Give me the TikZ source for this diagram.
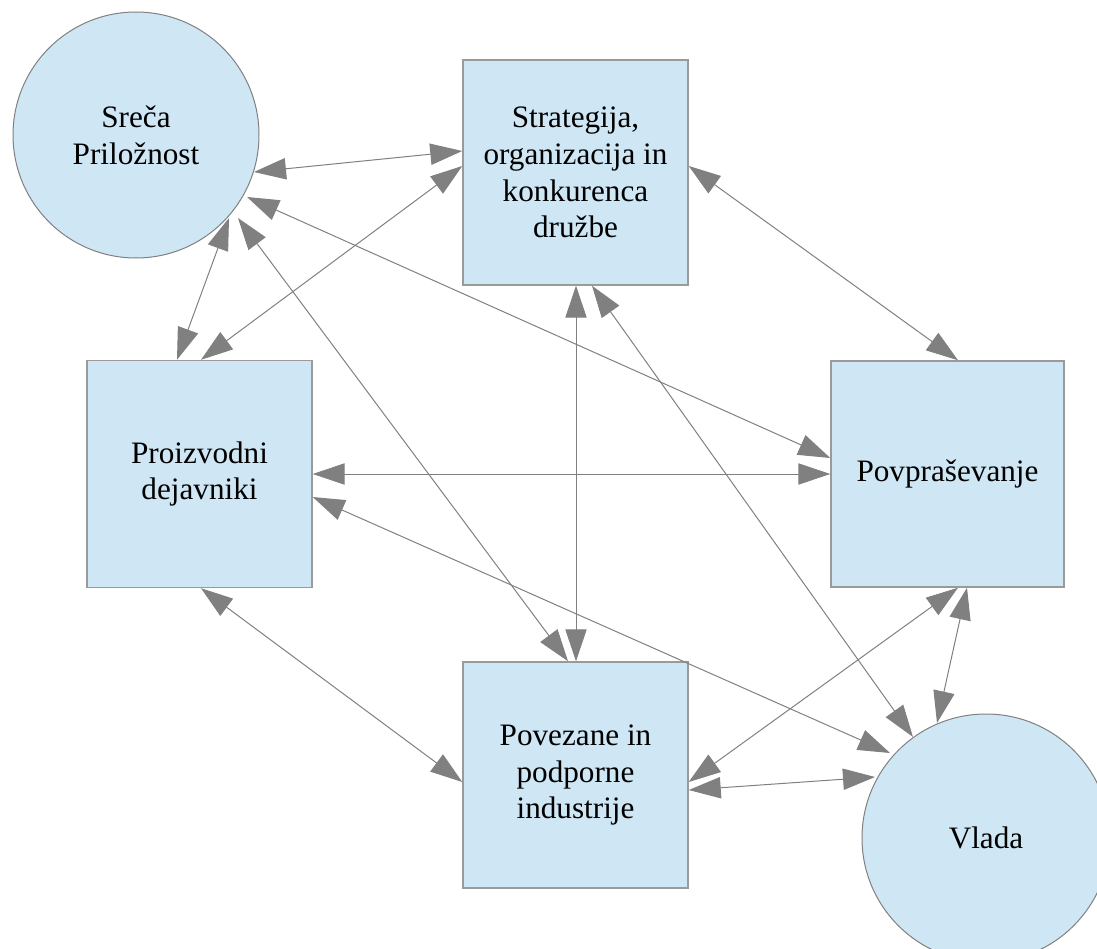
\documentclass[tikz,border=0pt]{standalone}
\usepackage{fontspec}
\setmainfont{Liberation Serif}
\usetikzlibrary{arrows.meta,calc}
\definecolor{fillblue}{HTML}{CFE6F4}
\definecolor{boxgray}{HTML}{9A9A9A}
\definecolor{edgegray}{HTML}{808080}
\definecolor{arrgray}{HTML}{808080}
\begin{document}
\begin{tikzpicture}[x=0.75pt,y=-0.75pt,
  lbl/.style={font=\fontsize{23.4}{27.5}\selectfont, align=center, text=black},
  boxnode/.style={lbl, draw=boxgray, line width=1.1pt, fill=fillblue, rectangle, inner sep=0pt},
  circnode/.style={lbl, draw=edgegray, line width=0.75pt, fill=fillblue, circle, inner sep=0pt},
  link/.style={draw=arrgray, line width=0.75pt, {Triangle[length=24pt,width=16pt]}-{Triangle[length=24pt,width=16pt]}}
]
\useasboundingbox (0,0) rectangle (1097,949);
\clip (0,0) rectangle (1097,949);

\node[circnode, minimum size=184.5pt] (sreca) at (136,135) {Sreča\\Priložnost};
\node[circnode, minimum size=186pt] (vlada) at (986,838) {Vlada};
\node[boxnode, minimum width=168.75pt, minimum height=168.75pt] (strat) at (575.5,172.5) {Strategija,\\organizacija in\\konkurenca\\družbe};
\node[boxnode, minimum width=168.75pt, minimum height=170.25pt] (proiz) at (199.5,474) {Proizvodni\\dejavniki};
\node[boxnode, minimum width=174.75pt, minimum height=169.5pt] (povpr) at (947.5,474) {Povpraševanje};
\node[boxnode, minimum width=168.75pt, minimum height=169.5pt] (povez) at (575.5,775) {Povezane in\\podporne\\industrije};

\draw[link] ($(sreca.center)+(118,37)$) -- ($(strat.west)+(0,-21.5)$);
\draw[link] ($(sreca.center)+(93,83)$) -- ($(proiz.north)+(-22.5,0)$);
\draw[link] ($(strat.west)+(0,-6.5)$) -- ($(proiz.north)+(1.5,0)$);
\draw[link] ($(sreca.center)+(111,62)$) -- ($(povpr.west)+(0,-16)$);
\draw[link] ($(sreca.center)+(102,83)$) -- ($(povez.north)+(-7.5,0)$);
\draw[link] ($(strat.south)+(0.5,0)$) -- ($(povez.north)+(0.5,0)$);
\draw[link] ($(strat.south)+(16.5,0)$) -- ($(vlada.center)+(-73,-101)$);
\draw[link] ($(strat.east)+(0,-6.5)$) -- ($(povpr.north)+(10.5,0)$);
\draw[link] (proiz.east) -- (povpr.west);
\draw[link] ($(proiz.east)+(0,23)$) -- ($(vlada.center)+(-96,-85)$);
\draw[link] ($(proiz.south)+(1.5,0)$) -- ($(povez.west)+(0,7)$);
\draw[link] ($(povez.east)+(0,7)$) -- ($(povpr.south)+(10.5,0)$);
\draw[link] ($(povez.east)+(0,15)$) -- ($(vlada.center)+(-111,-61)$);
\draw[link] ($(povpr.south)+(19.5,0)$) -- ($(vlada.center)+(-49,-115)$);
\end{tikzpicture}
\end{document}
